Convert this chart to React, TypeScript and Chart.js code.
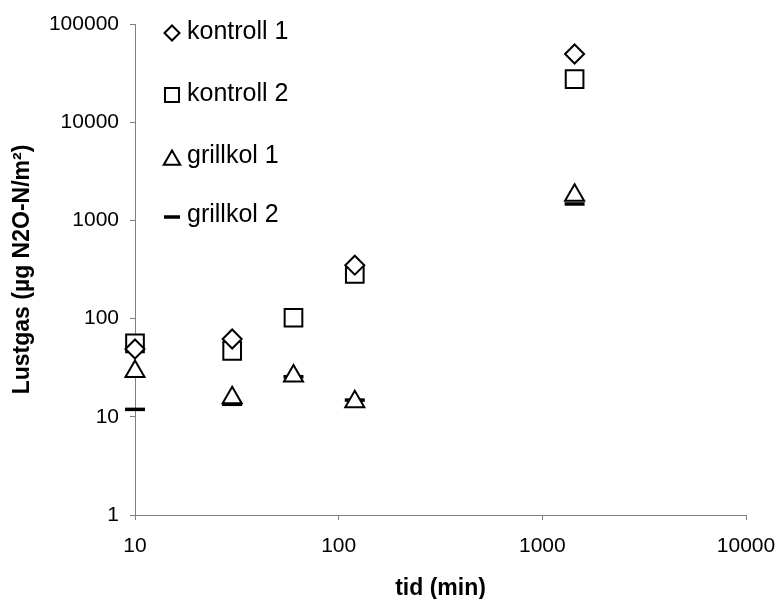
import React, { useEffect, useRef } from "react";
import { Chart, registerables } from "chart.js";

Chart.register(...registerables);

const timeMin = [10, 30, 60, 120, 1440];
const kontroll1 = [49, 62, null, 350, 49500];
const kontroll2 = [56, 47, 102, 285, 27500];
const grillkol1 = [29, 15.6, 26, 14.2, 1800];
const grillkol2 = [11.9, 13.4, 25.6, 14.8, 1470];
const seriesNames = ["kontroll 1", "kontroll 2", "grillkol 1", "grillkol 2"];
const yTicks = [1, 10, 100, 1000, 10000, 100000];
const xTicks = [10, 100, 1000, 10000];
const yTitle = "Lustgas (µg N2O-N/m²)";
const xTitle = "tid (min)";

const FONT = "'Liberation Sans', Arial, sans-serif";

function toPoints(vals: (number | null)[]) {
  const out: { x: number; y: number }[] = [];
  vals.forEach((v, i) => {
    if (v !== null) out.push({ x: timeMin[i], y: v });
  });
  return out;
}

const legendPlugin = {
  id: "insideLegend",
  afterDraw(chart: any) {
    const ctx = chart.ctx as CanvasRenderingContext2D;
    const mx = 172;
    const tx = 187;
    const rows = [
      { style: "diamond", my: 33, ty: 32 },
      { style: "square", my: 95, ty: 94 },
      { style: "triangle", my: 160, ty: 156 },
      { style: "dash", my: 217, ty: 215 },
    ];
    ctx.save();
    rows.forEach((r, i) => {
      ctx.beginPath();
      ctx.strokeStyle = "#000";
      ctx.fillStyle = "#fff";
      ctx.lineWidth = 2;
      if (r.style === "diamond") {
        const s = 7.5;
        ctx.moveTo(mx - s, r.my);
        ctx.lineTo(mx, r.my - s);
        ctx.lineTo(mx + s, r.my);
        ctx.lineTo(mx, r.my + s);
        ctx.closePath();
        ctx.fill();
        ctx.stroke();
      } else if (r.style === "square") {
        const s = 7;
        ctx.rect(mx - s, r.my - s, 2 * s, 2 * s);
        ctx.fill();
        ctx.stroke();
      } else if (r.style === "triangle") {
        const s = 9.5;
        const a = (2 * Math.PI) / 3;
        ctx.moveTo(mx, r.my - s);
        ctx.lineTo(mx + Math.sin(a) * s, r.my - Math.cos(a) * s);
        ctx.lineTo(mx + Math.sin(2 * a) * s, r.my - Math.cos(2 * a) * s);
        ctx.closePath();
        ctx.fill();
        ctx.stroke();
      } else {
        ctx.lineWidth = 3.5;
        ctx.moveTo(mx - 8, r.my);
        ctx.lineTo(mx + 8, r.my);
        ctx.stroke();
      }
      ctx.fillStyle = "#000";
      ctx.font = `25px ${FONT}`;
      ctx.textAlign = "left";
      ctx.textBaseline = "middle";
      ctx.fillText(seriesNames[i], tx, r.ty);
    });
    ctx.restore();
  },
};

export default function App() {
  const ref = useRef<HTMLCanvasElement | null>(null);
  useEffect(() => {
    if (!ref.current) return;
    const common = {
      showLine: false,
      clip: false as any,
      borderColor: "#000",
      backgroundColor: "#fff",
    };
    const chart = new Chart(ref.current, {
      type: "scatter",
      data: {
        datasets: [
          { ...common, label: seriesNames[0], data: toPoints(kontroll1), pointStyle: "rectRot", pointRadius: 9.5, borderWidth: 2 },
          { ...common, label: seriesNames[1], data: toPoints(kontroll2), pointStyle: "rect", pointRadius: 12.5, borderWidth: 2 },
          { ...common, label: seriesNames[2], data: toPoints(grillkol1), pointStyle: "triangle", pointRadius: 11, borderWidth: 2 },
          { ...common, label: seriesNames[3], data: toPoints(grillkol2), pointStyle: "line", pointRadius: 10, borderWidth: 3.5 },
        ],
      },
      options: {
        animation: false,
        responsive: false,
        layout: { padding: { left: 0, top: 24, right: 30, bottom: 0 } },
        plugins: {
          legend: { display: false },
          tooltip: { enabled: false },
        },
        scales: {
          x: {
            type: "logarithmic",
            min: 10,
            max: 10000,
            z: 1,
            afterBuildTicks: (s: any) => {
              s.ticks = xTicks.map((v) => ({ value: v }));
            },
            afterFit: (s: any) => {
              s.height = 84;
              s.paddingLeft = 0;
              s.paddingRight = 0;
            },
            ticks: {
              callback: (v: any) => String(v),
              color: "#000",
              font: { family: FONT, size: 21 },
              padding: 14,
              maxRotation: 0,
              autoSkip: false,
            },
            grid: { drawOnChartArea: false, drawTicks: true, tickLength: 5, color: "#808080" },
            border: { display: true, color: "#808080", width: 1 },
            title: {
              display: true,
              text: xTitle,
              color: "#000",
              font: { family: FONT, size: 23, weight: "bold" },
              padding: { top: 0, bottom: -3 },
            },
          },
          y: {
            type: "logarithmic",
            min: 1,
            max: 100000,
            z: 1,
            afterBuildTicks: (s: any) => {
              s.ticks = yTicks.map((v) => ({ value: v }));
            },
            afterFit: (s: any) => {
              s.width = 135;
              s.paddingTop = 0;
              s.paddingBottom = 0;
            },
            ticks: {
              callback: (v: any) => String(v),
              color: "#000",
              font: { family: FONT, size: 21 },
              padding: 11,
              autoSkip: false,
            },
            grid: { drawOnChartArea: false, drawTicks: true, tickLength: 5, color: "#808080" },
            border: { display: true, color: "#808080", width: 1 },
            title: {
              display: true,
              text: yTitle,
              color: "#000",
              font: { family: FONT, size: 23, weight: "bold" },
              padding: { top: 9, bottom: 0 },
            },
          },
        },
      },
      plugins: [legendPlugin],
    } as any);
    return () => chart.destroy();
  }, []);
  return (
    <div style={{ position: "absolute", left: 0, top: 0, width: 776, height: 599, background: "#fff" }}>
      <canvas ref={ref} width={776} height={599} />
    </div>
  );
}
